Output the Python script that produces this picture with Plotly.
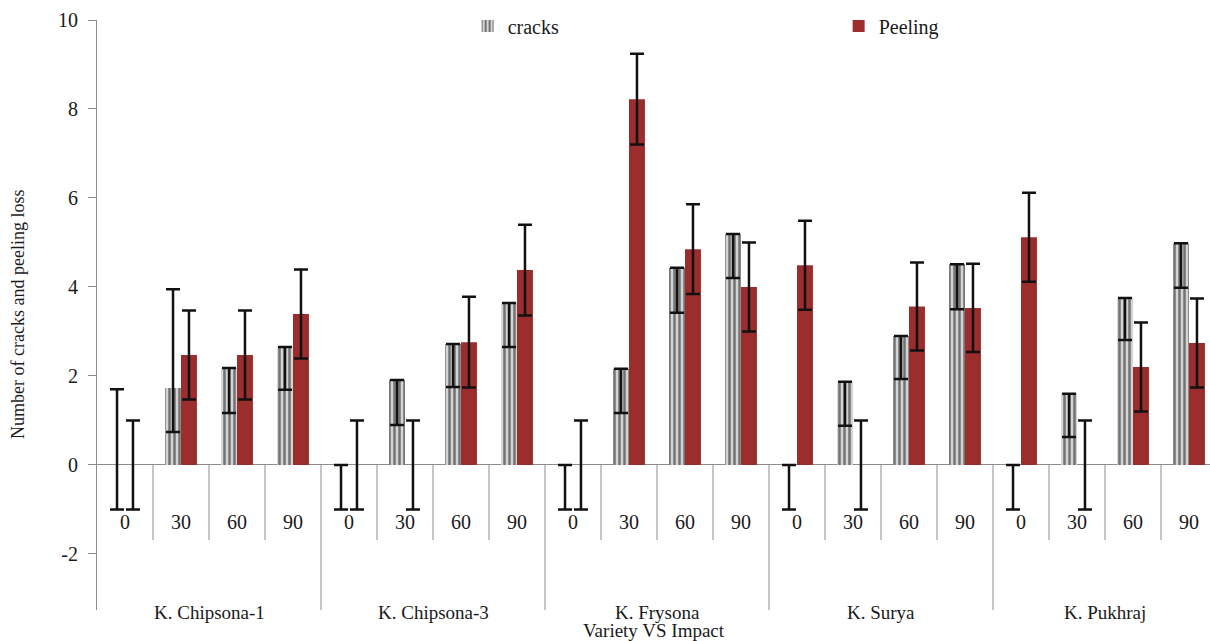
import plotly.graph_objects as go

varieties = ["K. Chipsona-1", "K. Chipsona-3", "K. Frysona", "K. Surya", "K. Pukhraj"]
impacts = ["0", "30", "60", "90"]

cracks = [0, 1.73, 2.18, 2.65,
          0, 1.91, 2.72, 3.64,
          0, 2.16, 4.43, 5.19,
          0, 1.87, 2.90, 4.51,
          0, 1.60, 3.75, 4.98]
cracks_err_plus = [1.70, 2.22, 0, 0,
                   0, 0, 0, 0,
                   0, 0, 0, 0,
                   0, 0, 0, 0,
                   0, 0, 0, 0]
cracks_err_minus = [1.0, 0.99, 1.01, 0.96,
                    1.0, 1.01, 0.97, 0.99,
                    1.0, 0.99, 1.01, 0.99,
                    1.0, 0.99, 0.97, 1.01,
                    1.0, 0.97, 0.94, 1.0]

peeling = [0, 2.47, 2.47, 3.39,
           0, 0, 2.76, 4.38,
           0, 8.22, 4.85, 4.00,
           4.49, 0, 3.56, 3.53,
           5.12, 0, 2.20, 2.74]
peeling_err = [1.0, 1.0, 1.0, 1.0,
               1.0, 1.0, 1.02, 1.02,
               1.0, 1.02, 1.01, 1.0,
               1.0, 1.0, 0.99, 0.99,
               1.0, 1.0, 1.0, 1.0]

y_ticks = [-2, 0, 2, 4, 6, 8, 10]
y_tick_text = ["-2", "0", "2", "4", "6", "8", "10"]

FONT = "Times New Roman"
TXT = "#1a1a1a"
AX = "#8c8c8c"

n_imp = len(impacts)
xs = list(range(len(varieties) * n_imp))
sub_labels = [impacts[i % n_imp] for i in xs]

fig = go.Figure()
fig.add_trace(go.Bar(
    x=xs, y=cracks, name="cracks",
    marker=dict(color="#cccccc",
                pattern=dict(shape="|", fgcolor="#111111", bgcolor="#d4d4d4",
                             size=5, solidity=0.5),
                line=dict(width=0)),
    error_y=dict(type="data", symmetric=False, array=cracks_err_plus,
                 arrayminus=cracks_err_minus, color="#111111",
                 thickness=2.5, width=7),
))
fig.add_trace(go.Bar(
    x=xs, y=peeling, name="Peeling",
    marker=dict(color="#9b2d2d", line=dict(width=0)),
    error_y=dict(type="data", array=peeling_err, color="#111111",
                 thickness=2.5, width=7),
))

shapes = []
for i in xs[:-1]:
    is_group = (i + 1) % n_imp == 0
    shapes.append(dict(type="line", xref="x", yref="y",
                       x0=i + 0.5, x1=i + 0.5, y0=0,
                       y1=-3.26 if is_group else -1.69,
                       line=dict(color=AX, width=1), layer="below"))

annotations = []
for i in xs:
    annotations.append(dict(x=i, y=-1.28, xref="x", yref="y", text=sub_labels[i],
                            showarrow=False, font=dict(family=FONT, size=20, color=TXT),
                            xanchor="center", yanchor="middle"))
for g, v in enumerate(varieties):
    annotations.append(dict(x=g * n_imp + (n_imp - 1) / 2, y=-0.004, xref="x", yref="paper",
                            text=v, showarrow=False,
                            font=dict(family=FONT, size=19, color=TXT),
                            xanchor="center", yanchor="middle"))
annotations.append(dict(x=0.5, y=-0.034, xref="paper", yref="paper",
                        text="Variety VS Impact", showarrow=False,
                        font=dict(family=FONT, size=19, color=TXT),
                        xanchor="center", yanchor="middle"))
annotations.append(dict(x=0, y=0.5, xref="paper", yref="paper", xshift=-79,
                        text="Number of cracks and peeling loss", textangle=-90,
                        showarrow=False, font=dict(family=FONT, size=18, color=TXT),
                        xanchor="center", yanchor="middle"))

fig.update_layout(
    width=1210, height=641,
    margin=dict(l=97, r=0, t=20, b=31, autoexpand=False),
    paper_bgcolor="white", plot_bgcolor="white",
    barmode="group", bargap=0.43, bargroupgap=0,
    font=dict(family=FONT, size=20, color=TXT),
    showlegend=True,
    legend=dict(orientation="h", x=0.333, xanchor="left", y=0.99, yanchor="middle",
                entrywidth=326, entrywidthmode="pixels",
                font=dict(family=FONT, size=20, color=TXT),
                bgcolor="rgba(0,0,0,0)"),
    xaxis=dict(range=[-0.5, 19.375], showticklabels=False, showgrid=False,
               zeroline=False, showline=False, ticks=""),
    yaxis=dict(range=[-3.26, 10], tickvals=y_ticks, ticktext=y_tick_text,
               showgrid=False, zeroline=True, zerolinecolor=AX, zerolinewidth=1,
               showline=True, linecolor=AX, linewidth=1,
               ticks="outside", ticklen=8, tickcolor=AX,
               ticklabelstandoff=6,
               tickfont=dict(family=FONT, size=20, color=TXT)),
    shapes=shapes,
    annotations=annotations,
)

fig.write_html("out.html", config={"displayModeBar": False},
               post_script="document.body.style.margin='0px';document.body.style.padding='0px';")
